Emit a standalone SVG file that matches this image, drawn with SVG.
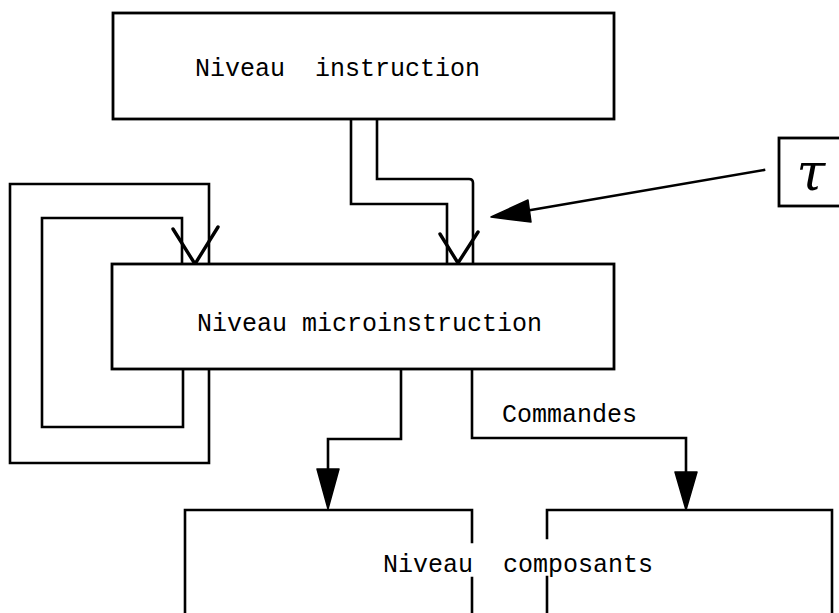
<svg xmlns="http://www.w3.org/2000/svg" width="839" height="613" viewBox="0 0 839 613">
<defs>
<style>
.ln{fill:none;stroke:#000;stroke-width:2.6;stroke-linejoin:miter;stroke-linecap:square}
.bx{fill:#fff;stroke:#000;stroke-width:2.8}
.tx{font-family:"Liberation Mono","Courier New",monospace;font-size:25px;fill:#000}
.hd{fill:#000;stroke:#000;stroke-width:1.5;stroke-linejoin:round}
.v{fill:none;stroke:#000;stroke-width:3.4;stroke-linecap:round}
</style>
</defs>
<rect width="839" height="613" fill="#fff"/>
<g id="connectors">
<path class="ln" d="M182,264 V218 H42 V427 H183 V369"/>
<path class="ln" d="M209,264 V184 H10 V463 H209 V369"/>
<path class="ln" d="M351,119 V204 H447 V264"/>
<path class="ln" d="M377,119 V179 H469 Q473,179 473,183 V264"/>
<path class="v" d="M173,229 L195,264 L218,227"/>
<path class="v" d="M440,234 L458,263 L478,232"/>
<path class="ln" d="M764,170 L525,211"/>
<polygon class="hd" points="491,217 528,200 531,222"/>
<path class="ln" d="M401,369 V439 H328 V470"/>
<polygon class="hd" points="317,469 339,469 328,509"/>
<path class="ln" d="M472,369 V438 H686 V472"/>
<polygon class="hd" points="675,472 697,472 686,510"/>
</g>
<g id="n-instruction">
<rect class="bx" x="113" y="13" width="501" height="106"/>
<text class="tx" x="195" y="76" xml:space="preserve">Niveau  instruction</text>
</g>
<g id="n-micro">
<rect class="bx" x="112" y="264" width="502" height="105"/>
<text class="tx" x="197" y="331">Niveau microinstruction</text>
</g>
<g id="n-tau">
<rect class="bx" x="779" y="138" width="70" height="68"/>
<text x="811" y="190" text-anchor="middle" style="font-family:'DejaVu Serif',serif;font-style:italic;font-size:52px;fill:#000">τ</text>
</g>
<g id="label-commandes">
<text class="tx" x="502" y="422">Commandes</text>
</g>
<g id="n-composants">
<path class="ln" d="M185,620 V510 H472 V542 M472,578 V620"/>
<path class="ln" d="M547,620 V577 M547,538 V510 H832 V620"/>
<text class="tx" x="383" y="572" xml:space="preserve">Niveau  composants</text>
</g>
</svg>
